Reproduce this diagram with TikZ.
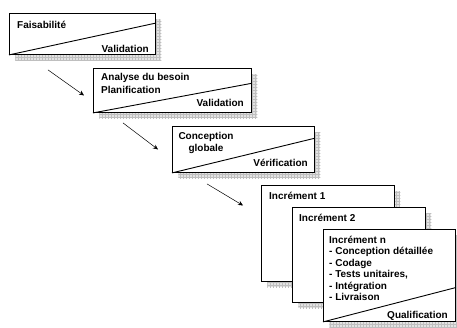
\documentclass[tikz,border=0pt]{standalone}
\usepackage{fontspec}
\setmainfont{Liberation Sans}
\usetikzlibrary{positioning, arrows, arrows.meta, calc, shadows, patterns}

\tikzset{
  phase/.style={draw, fill=white, line width=0.9pt, rectangle, inner sep=0pt, anchor=north west,
    general shadow={shadow xshift=6pt, shadow yshift=-6pt, fill=gray!22},
    general shadow={shadow xshift=6pt, shadow yshift=-6pt, pattern=grid, pattern color=gray!50}},
  etiq/.style={inner sep=0pt, font=\bfseries\fontsize{10}{11.4}\selectfont},
  fleche/.style={-{Stealth[length=5pt,width=4.5pt]}, line width=0.5pt}
}

\begin{document}
\begin{tikzpicture}[x=1pt,y=-1pt]
        \useasboundingbox (0,0) rectangle (457,327);

        % phases
        \node[phase, minimum width=146pt, minimum height=41pt] (fais) at (9,13) {};
        \node[phase, minimum width=158pt, minimum height=44pt] (analyse) at (93,68) {};
        \node[phase, minimum width=142pt, minimum height=46pt] (concept) at (172,126) {};
        \node[phase, minimum width=133pt, minimum height=96pt] (inc1) at (261,185) {};
        \node[phase, minimum width=133pt, minimum height=95pt] (inc2) at (292,207) {};
        \node[phase, minimum width=132pt, minimum height=92pt] (incn) at (323,229) {};

        \draw[line width=0.9pt] (fais.south west) -- ($(fais.south east)!0.76!(fais.north east)$);
        \draw[line width=0.9pt] (analyse.south west) -- ($(analyse.south east)!0.66!(analyse.north east)$);
        \draw[line width=0.9pt] (concept.south west) -- ($(concept.south east)!0.74!(concept.north east)$);
        \draw[line width=0.9pt] (incn.south west) -- ($(incn.south east)!0.37!(incn.north east)$);

        % textes
        \node[etiq, anchor=base west] (faisT) at (17,28) {Faisabilité};
        \node[etiq, anchor=base east] (faisV) at (149,52) {Validation};
        \node[etiq, anchor=north west, align=left] (analyseT) at (101,73.5) {Analyse du besoin\\[1.5pt]Planification};
        \node[etiq, anchor=base east] (analyseV) at (244,106) {Validation};
        \node[etiq, anchor=north, align=center] (conceptT) at (206,132.5) {Conception\\globale};
        \node[etiq, anchor=base east] (conceptV) at (308,166) {Vérification};
        \node[etiq, anchor=base west] (inc1T) at (269,199) {Incrément 1};
        \node[etiq, anchor=base west] (inc2T) at (299,221) {Incrément 2};
        \node[etiq, anchor=north west, align=left] (incnT) at (329,236) {Incrément n\\- Conception détaillée\\- Codage\\- Tests unitaires,\\- Intégration\\- Livraison};
        \node[etiq, anchor=base east] (incnV) at (448,318) {Qualification};

        % fleches
        \coordinate (d1) at ([shift={(39,15)}]fais.south west);
        \coordinate (f1) at ([shift={(-9,5)}]analyse.west);
        \coordinate (d2) at ([shift={(30,10)}]analyse.south west);
        \coordinate (f2) at ([shift={(-14,0)}]concept.west);
        \coordinate (d3) at ([shift={(35,11)}]concept.south west);
        \coordinate (f3) at ([shift={(-18,-28)}]inc1.west);

        \path[fleche]
        (d1) edge (f1)
        (d2) edge (f2)
        (d3) edge (f3)
        ;

    \end{tikzpicture}
\end{document}
